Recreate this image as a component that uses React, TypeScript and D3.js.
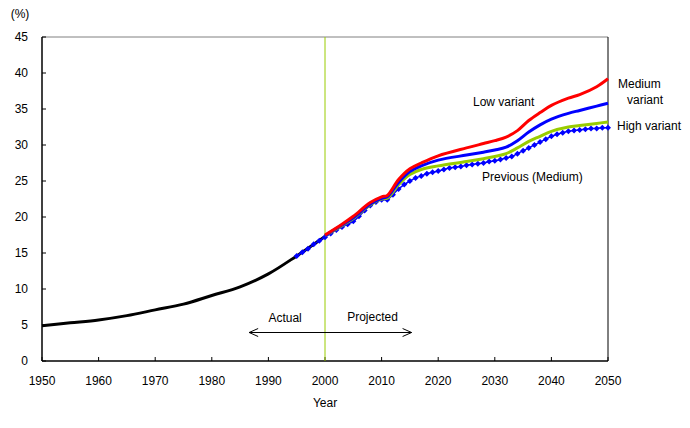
import React from "react";
import * as d3 from "d3";

const yTicks = [0, 5, 10, 15, 20, 25, 30, 35, 40, 45];
const xTicks = [1950, 1960, 1970, 1980, 1990, 2000, 2010, 2020, 2030, 2040, 2050];

const actualYears = [1950, 1955, 1960, 1965, 1970, 1975, 1980, 1985, 1990, 1995, 2000];
const actualValues = [4.9, 5.3, 5.7, 6.3, 7.1, 7.9, 9.1, 10.3, 12.1, 14.6, 17.3];

const projYears = [2000, 2003, 2005, 2008, 2010, 2011, 2013, 2015, 2017, 2020, 2025, 2028, 2030, 2032, 2034, 2036, 2038, 2040, 2043, 2045, 2048, 2050];
const lowValues = [17.5, 19.0, 20.1, 22.0, 22.8, 23.0, 25.2, 26.7, 27.5, 28.5, 29.6, 30.2, 30.6, 31.1, 32.0, 33.4, 34.5, 35.5, 36.5, 37.0, 38.1, 39.2];
const mediumValues = [17.4, 18.9, 19.9, 21.8, 22.6, 22.8, 24.8, 26.3, 27.1, 27.9, 28.6, 29.0, 29.3, 29.7, 30.6, 31.8, 32.8, 33.6, 34.4, 34.8, 35.4, 35.8];
const highValues = [17.4, 18.8, 19.8, 21.7, 22.5, 22.6, 24.5, 25.9, 26.6, 27.1, 27.7, 28.1, 28.4, 28.8, 29.6, 30.5, 31.2, 31.9, 32.5, 32.7, 33.0, 33.2];

const prevYears = d3.range(1995, 2051);
const prevValues = [
  14.6, 15.1, 15.6, 16.2, 16.7, 17.2, 17.7, 18.2, 18.6, 19.0,
  19.4, 20.1, 20.9, 21.6, 22.1, 22.4, 22.4, 23.1, 23.9, 24.5,
  25.0, 25.4, 25.7, 26.0, 26.2, 26.4, 26.6, 26.8, 26.9, 27.0,
  27.2, 27.3, 27.4, 27.5, 27.7, 27.8, 28.0, 28.2, 28.4, 28.8,
  29.2, 29.6, 30.0, 30.4, 30.8, 31.2, 31.5, 31.7, 31.9, 32.0,
  32.1, 32.2, 32.3, 32.3, 32.4, 32.4,
];

const arrowYears = [1986.6, 2000, 2015.3];

const W = 690, H = 428;
const L = 42, R = 608, T = 37, B = 361;
const font = "'Liberation Sans', Arial, sans-serif";

export default function App() {
  const x = d3.scaleLinear().domain([1950, 2050]).range([L, R]);
  const y = d3.scaleLinear().domain([0, 45]).range([B, T]);
  const line = d3
    .line<[number, number]>()
    .x((d) => x(d[0]))
    .y((d) => y(d[1]))
    .curve(d3.curveCatmullRom.alpha(0.5));
  const zip = (xs: number[], ys: number[]) => xs.map((v, i) => [v, ys[i]] as [number, number]);

  const ay = 332.5;
  const ax0 = x(arrowYears[0]);
  const ax1 = x(arrowYears[1]);
  const ax2 = x(arrowYears[2]);

  return (
    <div style={{ position: "absolute", left: 0, top: 0 }}>
      <svg width={W} height={H} style={{ display: "block", background: "#fff" }} fontFamily={font}>
        {/* frame */}
        <line x1={L} x2={R} y1={T} y2={T} stroke="#808080" strokeWidth={1} />
        <line x1={R} x2={R} y1={T} y2={B} stroke="#000" strokeWidth={1} />
        <line x1={L} x2={L} y1={T} y2={B} stroke="#000" strokeWidth={1.5} />
        <line x1={L} x2={R} y1={B} y2={B} stroke="#000" strokeWidth={1.5} />
        {yTicks.map((t) => (
          <g key={"y" + t}>
            <line x1={L} x2={L + 4} y1={y(t)} y2={y(t)} stroke="#000" />
            <text x={28} y={y(t)} dy="0.35em" textAnchor="end" fontSize={12}>
              {t}
            </text>
          </g>
        ))}
        {xTicks.map((t) => (
          <g key={"x" + t}>
            <line x1={x(t)} x2={x(t)} y1={B} y2={B - 4} stroke="#000" />
            <text x={x(t)} y={381} dy="0.35em" textAnchor="middle" fontSize={12}>
              {t}
            </text>
          </g>
        ))}
        <text x={20} y={14} dy="0.35em" textAnchor="middle" fontSize={12}>(%)</text>
        <text x={x(2000)} y={403} dy="0.35em" textAnchor="middle" fontSize={12}>Year</text>

        {/* 2000 divider */}
        <line x1={x(2000)} x2={x(2000)} y1={T} y2={B} stroke="#99CC00" strokeWidth={1} />

        {/* series */}
        <path d={line(zip(actualYears, actualValues)) || ""} fill="none" stroke="#000" strokeWidth={3} />
        <path d={line(zip(prevYears, prevValues)) || ""} fill="none" stroke="#0000FF" strokeWidth={1.5} />
        {prevYears.map((yr, i) => {
          const cx = x(yr), cy = y(prevValues[i]);
          return (
            <path
              key={"m" + yr}
              d={`M${cx},${cy - 3}L${cx + 3},${cy}L${cx},${cy + 3}L${cx - 3},${cy}Z`}
              fill="#0000FF"
            />
          );
        })}
        <path d={line(zip(projYears, highValues)) || ""} fill="none" stroke="#99CC00" strokeWidth={3} />
        <path d={line(zip(projYears, mediumValues)) || ""} fill="none" stroke="#0000FF" strokeWidth={3} />
        <path d={line(zip(projYears, lowValues)) || ""} fill="none" stroke="#FF0000" strokeWidth={3} />

        {/* labels */}
        <text x={473} y={101.7} dy="0.35em" fontSize={12}>Low variant</text>
        <text x={618} y={84} dy="0.35em" fontSize={12}>Medium</text>
        <text x={627} y={100} dy="0.35em" fontSize={12}>variant</text>
        <text x={617} y={125.7} dy="0.35em" fontSize={12}>High variant</text>
        <text x={482} y={176.7} dy="0.35em" fontSize={12}>Previous (Medium)</text>

        {/* arrows */}
        <line x1={ax0} x2={ax2} y1={ay} y2={ay} stroke="#000" strokeWidth={1} />
        <path d={`M${ax0 + 9},${ay - 4}L${ax0},${ay}L${ax0 + 9},${ay + 4}`} fill="none" stroke="#000" strokeWidth={1} />
        <path d={`M${ax2 - 9},${ay - 4}L${ax2},${ay}L${ax2 - 9},${ay + 4}`} fill="none" stroke="#000" strokeWidth={1} />
        <text x={(ax0 + ax1) / 2 - 2} y={318} dy="0.35em" textAnchor="middle" fontSize={12}>Actual</text>
        <text x={372.5} y={316.5} dy="0.35em" textAnchor="middle" fontSize={12}>Projected</text>
      </svg>
    </div>
  );
}
